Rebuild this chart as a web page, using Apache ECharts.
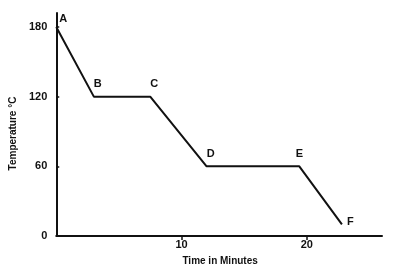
<!DOCTYPE html>
<html><head><meta charset="utf-8">
<script src="https://cdn.jsdelivr.net/npm/echarts@6/dist/echarts.min.js"></script>
<style>html,body{margin:0;padding:0;background:#fff}#c{width:393px;height:271px}</style>
</head><body><div id="c"></div>
<script>
const times = [0, 3, 7.5, 12, 19.4, 22.8];
const temps = [180, 120, 120, 60, 60, 10];
const pointNames = ['A', 'B', 'C', 'D', 'E', 'F'];
const xTickLabels = [10, 20];
const yTickLabels = [0, 60, 120, 180];

const labelPos = ['right', 'top', 'top', 'top', 'top', 'right'];
const labelOff = [[-2, -8], [4, -2], [4, -2], [4, -2], [0, -2], [0, -2]];
const font = 'Liberation Sans';
const chart = echarts.init(document.getElementById('c'));
chart.setOption({
  animation: false,
  backgroundColor: '#fff',
  grid: {left: 54, top: 13, right: 11, bottom: 35},
  xAxis: {
    type: 'value', min: 0, max: 26, interval: 10,
    name: 'Time in Minutes', nameLocation: 'middle', nameGap: 20,
    nameTextStyle: {fontFamily: font, fontSize: 10, fontWeight: 'bold', color: '#111', padding: [0, 0, 0, 2]},
    axisLine: {lineStyle: {color: '#111', width: 2}},
    axisTick: {show: true, inside: false, length: 4, customValues: xTickLabels, lineStyle: {color: '#111', width: 1.5}},
    axisLabel: {fontFamily: font, fontSize: 11, fontWeight: 'bold', color: '#111', margin: 3,
      customValues: xTickLabels},
    splitLine: {show: false}
  },
  yAxis: {
    type: 'value', min: 0, max: 192, interval: 60,
    name: 'Temperature °C', nameLocation: 'middle', nameGap: 38, nameRotate: 90,
    nameTextStyle: {fontFamily: font, fontSize: 10, fontWeight: 'bold', color: '#111', padding: [0, 18, 0, 0]},
    axisLine: {show: true, lineStyle: {color: '#111', width: 2}},
    axisTick: {show: true, inside: true, length: 3, customValues: yTickLabels, lineStyle: {color: '#111', width: 1.5}},
    axisLabel: {fontFamily: font, fontSize: 11, fontWeight: 'bold', color: '#111', margin: 9,
      customValues: yTickLabels},
    splitLine: {show: false}
  },
  series: [{
    type: 'line',
    data: times.map((t, i) => ({
      value: [t, temps[i]],
      label: {show: true, position: labelPos[i], offset: labelOff[i], formatter: pointNames[i]}
    })),
    symbol: 'circle',
    symbolSize: 0,
    showSymbol: true,
    itemStyle: {color: '#111'},
    lineStyle: {color: '#111', width: 2},
    label: {fontFamily: font, fontSize: 11, fontWeight: 'bold', color: '#111'}
  }]
});
</script></body></html>
